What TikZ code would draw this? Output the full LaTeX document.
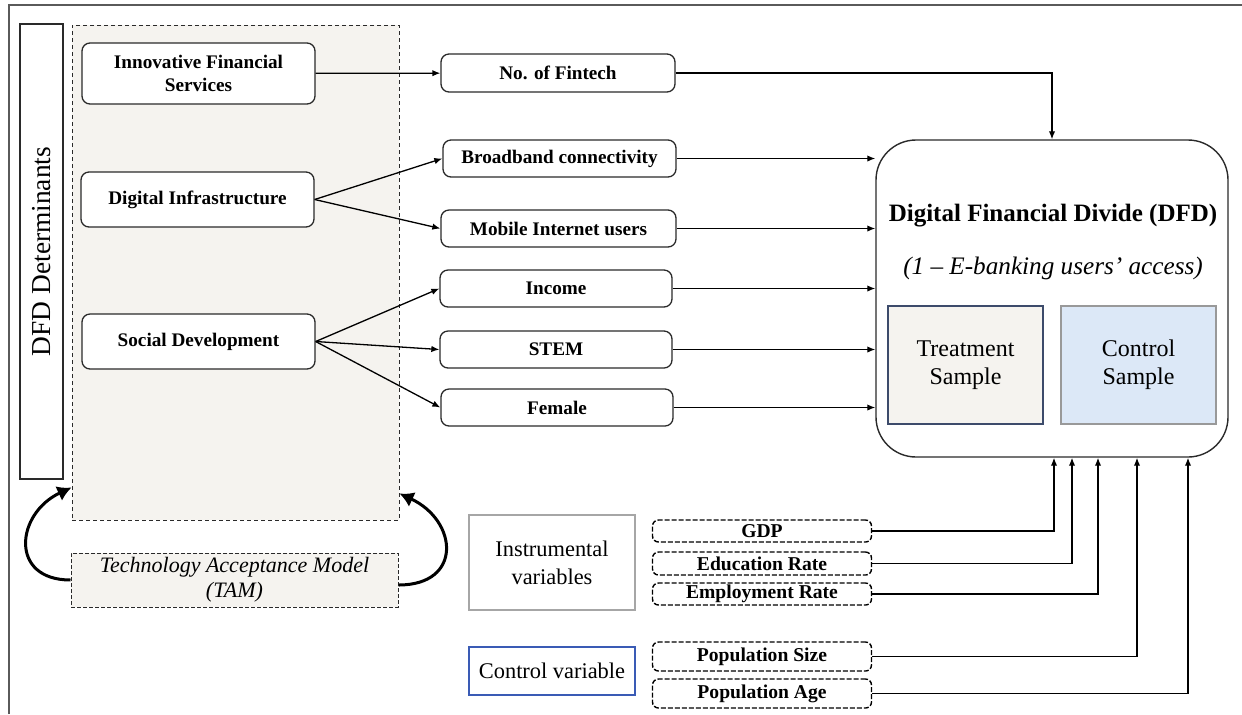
\documentclass[tikz,border=0pt]{standalone}
\usepackage{fontspec}
\setmainfont{Liberation Serif}
\usepackage{tikz}
\usetikzlibrary{arrows.meta}
\usetikzlibrary{positioning}
\definecolor{beige}{HTML}{F5F3EF}
\definecolor{ctrlblue}{HTML}{DCE8F7}
\definecolor{boxgray}{HTML}{2A2A2A}
\definecolor{framegray}{HTML}{5A5A5A}
\definecolor{slateblue}{HTML}{3D4B6B}
\definecolor{cvblue}{HTML}{3A5BB5}
\tikzset{
  varbox/.style={draw=boxgray, fill=white, rounded corners=4pt, line width=0.65pt,
    font=\fontsize{9.6}{11.5}\selectfont\bfseries, align=center, inner sep=0pt},
  ivbox/.style={draw=black, fill=white, rounded corners=3pt, line width=0.7pt,
    dash pattern=on 2.5pt off 1pt, minimum width=109.5pt,
    font=\fontsize{9.8}{11}\selectfont\bfseries, inner sep=0pt},
  samplebox/.style={line width=0.6pt, minimum width=77.5pt, minimum height=59pt,
    align=center, font=\fontsize{12}{14}\selectfont, inner sep=0pt},
  keybox/.style={fill=white, line width=0.6pt, minimum width=83pt, align=center,
    font=\fontsize{11.2}{14}\selectfont, inner sep=0pt},
  link/.style={-{Latex[length=4pt,width=3.2pt]}, line width=0.65pt, draw=black},
  tamlink/.style={-{Latex[length=7pt,width=8pt]}, line width=1.5pt}
}
\begin{document}
\begin{tikzpicture}[x=0.5pt, y=-0.5pt]
  \useasboundingbox (0,0) rectangle (1242,714);
  % frame
  \draw[framegray, line width=0.8pt] (9,714) -- (9,5) -- (1242,5);

  % determinants block
  \node[draw=boxgray, fill=beige, line width=0.5pt, dash pattern=on 2pt off 1.5pt,
        minimum width=163.5pt, minimum height=247.5pt] (region) at (235.5,272.5) {};
  \node[draw=boxgray, fill=white, line width=0.65pt, rotate=90, minimum width=227.5pt,
        minimum height=21.5pt, inner sep=0pt, font=\fontsize{13.7}{16}\selectfont] (det) at (41.5,251.5) {DFD Determinants};
  \node[varbox, minimum width=116.5pt, minimum height=30.5pt] (ifs) at (198.5,73.5) {Innovative Financial\\Services};
  \node[varbox, minimum width=116.5pt, minimum height=27.5pt] (dinf) at (197.5,199.5) {Digital Infrastructure};
  \node[varbox, minimum width=116.5pt, minimum height=27.5pt] (sdev) at (198.5,341.5) {Social Development};

  % TAM
  \node[draw=boxgray, fill=beige, line width=0.5pt, dash pattern=on 2pt off 1pt,
        minimum width=163.5pt, minimum height=27pt, inner sep=0pt, align=center,
        font=\fontsize{11}{12.5}\selectfont\itshape] (tam) at (234.5,580) {Technology Acceptance Model\\(TAM)};
  \draw[tamlink] (tam.west) to[out=180, in=205, looseness=1.7] ([yshift=16.5pt]region.south west);
  \draw[tamlink] ([yshift=-2.5pt]tam.east) to[out=0, in=-25, looseness=1.8] ([yshift=13.5pt]region.south east);

  % proxies
  \node[varbox, minimum width=117pt, minimum height=19pt] (fintech) at (558,73) {No. of Fintech};
  \node[varbox, minimum width=116.5pt, minimum height=18.5pt] (broad) at (559.5,158.5) {Broadband connectivity};
  \node[varbox, minimum width=117.5pt, minimum height=18.5pt] (mobile) at (558.5,228.5) {Mobile Internet users};
  \node[varbox, minimum width=116pt, minimum height=18.5pt] (income) at (556,288.5) {Income};
  \node[varbox, minimum width=116pt, minimum height=18.5pt] (stem) at (556,349.5) {STEM};
  \node[varbox, minimum width=116pt, minimum height=18.5pt] (female) at (557,407.5) {Female};

  \draw[link] (ifs) -- (fintech);
  \draw[link] (dinf.east) -- (broad.west);
  \draw[link] (dinf.east) -- (mobile.west);
  \draw[link] (sdev.east) -- (income.west);
  \draw[link] (sdev.east) -- (stem.west);
  \draw[link] (sdev.east) -- (female.west);

  % outcome
  \node[draw=boxgray, fill=white, line width=0.7pt, rounded corners=20pt,
        minimum width=176pt, minimum height=158.5pt] (dfd) at (1052,298.5) {};
  \node[font=\fontsize{12.5}{14}\selectfont\bfseries] (title) at (1053,216) {Digital Financial Divide (DFD)};
  \node[font=\fontsize{12.6}{14}\selectfont\itshape] (sub) at (1053,268) {(1 – E-banking users’ access)};
  \node[samplebox, draw=slateblue, fill=beige] (treat) at (965.5,365) {Treatment\\Sample};
  \node[samplebox, draw=gray!80, fill=ctrlblue] (ctrl) at (1138.5,365) {Control\\Sample};

  \draw[link] (fintech.east) -| (dfd.north);
  \draw[link] (broad.east) -- (broad.east -| dfd.west);
  \draw[link] (mobile.east) -- (mobile.east -| dfd.west);
  \draw[link] (income.east) -- (income.east -| dfd.west);
  \draw[link] (stem.east) -- (stem.east -| dfd.west);
  \draw[link] (female.east) -- (female.east -| dfd.west);

  % instruments and controls
  \node[keybox, draw=gray!70, minimum height=47.5pt] (instr) at (552,562.5) {Instrumental\\variables};
  \node[keybox, draw=cvblue, minimum height=24pt] (cvar) at (552,671) {Control variable};
  \node[ivbox, minimum height=11pt] (gdp) at (762,531) {GDP};
  \node[ivbox, minimum height=11.5pt] (edu) at (762,563.5) {Education Rate};
  \node[ivbox, minimum height=11pt] (emp) at (762,594) {Employment Rate};
  \node[ivbox, minimum height=14.5pt] (psize) at (762,656.5) {Population Size};
  \node[ivbox, minimum height=14.5pt] (page) at (762,693.5) {Population Age};

  \draw[link] (gdp.east) -| ([xshift=1pt]dfd.south);
  \draw[link] (edu.east) -| ([xshift=10pt]dfd.south);
  \draw[link] (emp.east) -| ([xshift=23pt]dfd.south);
  \draw[link] (psize.east) -| ([xshift=42.5pt]dfd.south);
  \draw[link] (page.east) -| ([xshift=68pt]dfd.south);
\end{tikzpicture}
\end{document}
